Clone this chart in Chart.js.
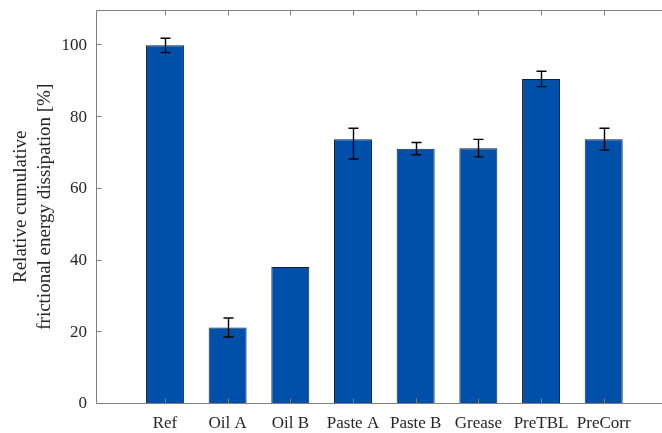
<!DOCTYPE html>
<html>
<head>
<meta charset="utf-8">
<script src="https://cdn.jsdelivr.net/npm/chart.js@4/dist/chart.umd.min.js"></script>
<style>
  html, body { margin: 0; padding: 0; background: #ffffff; }
  #wrap { width: 662px; height: 433px; }
</style>
</head>
<body>
<div id="wrap"><canvas id="c" width="662" height="433"></canvas></div>
<script>
// Relative cumulative frictional energy dissipation per lubricant
const categories = ['Ref', 'Oil A', 'Oil B', 'Paste A', 'Paste B', 'Grease', 'PreTBL', 'PreCorr'];
const dissipation = [100, 21.3, 38.2, 73.8, 71.2, 71.3, 90.6, 73.8];
const errUpper = [2.0, 2.7, null, 3.1, 1.7, 2.5, 2.2, 3.1];
const errLower = [2.0, 2.6, null, 5.5, 1.7, 2.4, 2.1, 3.0];
const yTickValues = [0, 20, 40, 60, 80, 100];
const yTitle = ['Relative cumulative', 'frictional energy dissipation [%]'];

const SERIF = "'Liberation Serif', 'Times New Roman', serif";
const AXIS_COLOR = '#7f7f7f';
const TEXT_COLOR = '#262626';

// Error bars plus a MATLAB-like axes frame with inward tick marks
const framePlugin = {
  id: 'frame',
  afterDatasetsDraw(chart) {
    const { ctx, chartArea: a, scales: { x, y } } = chart;
    ctx.save();

    // error bars
    ctx.strokeStyle = '#000000';
    ctx.lineWidth = 1.4;
    const cap = 5;
    dissipation.forEach((v, i) => {
      if (errUpper[i] == null) return;
      const px = Math.round(x.getPixelForValue(i)) + 0.5;
      const yt = y.getPixelForValue(v + errUpper[i]);
      const yb = y.getPixelForValue(v - errLower[i]);
      ctx.beginPath();
      ctx.moveTo(px, yt); ctx.lineTo(px, yb);
      ctx.moveTo(px - cap, yt); ctx.lineTo(px + cap, yt);
      ctx.moveTo(px - cap, yb); ctx.lineTo(px + cap, yb);
      ctx.stroke();
    });

    // axes lines
    ctx.strokeStyle = AXIS_COLOR;
    ctx.lineWidth = 1;
    const L = Math.round(a.left) + 0.5;
    const T = Math.round(a.top) + 0.5;
    const B = Math.round(a.bottom) - 0.5;
    ctx.beginPath();
    ctx.moveTo(a.right, T); ctx.lineTo(L, T); ctx.lineTo(L, B); ctx.lineTo(a.right, B);
    ctx.stroke();

    // inward ticks
    const tl = 5;
    ctx.beginPath();
    yTickValues.forEach(v => {
      const py = Math.round(y.getPixelForValue(v)) - 0.5;
      ctx.moveTo(L, py); ctx.lineTo(L + tl, py);
    });
    categories.forEach((_, i) => {
      const px = Math.round(x.getPixelForValue(i)) + 0.5;
      ctx.moveTo(px, B); ctx.lineTo(px, B - tl);
      ctx.moveTo(px, T); ctx.lineTo(px, T + tl);
    });
    ctx.stroke();
    ctx.restore();
  }
};

new Chart(document.getElementById('c'), {
  type: 'bar',
  data: {
    datasets: [{
      data: categories.map((_, i) => ({ x: i, y: dissipation[i] })),
      backgroundColor: 'rgb(0, 80, 170)',
      borderColor: '#10203a',
      borderWidth: 1,
      categoryPercentage: 1,
      barPercentage: 0.606
    }]
  },
  options: {
    responsive: false,
    animation: false,
    devicePixelRatio: 1,
    layout: { padding: { top: 9.5, left: 0, right: 0, bottom: 0 } },
    plugins: { legend: { display: false }, tooltip: { enabled: false } },
    scales: {
      x: {
        type: 'linear',
        offset: false,
        min: -1.1,
        max: 7.93,
        grid: { display: false, drawTicks: false, offset: false },
        border: { display: false },
        afterBuildTicks: s => { s.ticks = categories.map((_, i) => ({ value: i })); },
        afterFit: s => { s.height = 29; s.paddingLeft = 0; s.paddingRight = 0; },
        ticks: {
          autoSkip: false,
          maxRotation: 0,
          padding: 9,
          color: TEXT_COLOR,
          font: { family: SERIF, size: 17 },
          callback: v => categories[v]
        }
      },
      y: {
        min: 0,
        max: 110,
        grid: { display: false, drawTicks: false },
        border: { display: false },
        afterBuildTicks: s => { s.ticks = yTickValues.map(v => ({ value: v })); },
        afterFit: s => { s.width = 96; s.paddingTop = 0; s.paddingBottom = 0; },
        ticks: {
          padding: 9,
          color: TEXT_COLOR,
          font: { family: SERIF, size: 17 }
        },
        title: {
          display: true,
          text: yTitle,
          color: TEXT_COLOR,
          font: { family: SERIF, size: 19, lineHeight: 1.26 },
          padding: { top: 9, bottom: 0 }
        }
      }
    }
  },
  plugins: [framePlugin]
});
</script>
</body>
</html>
